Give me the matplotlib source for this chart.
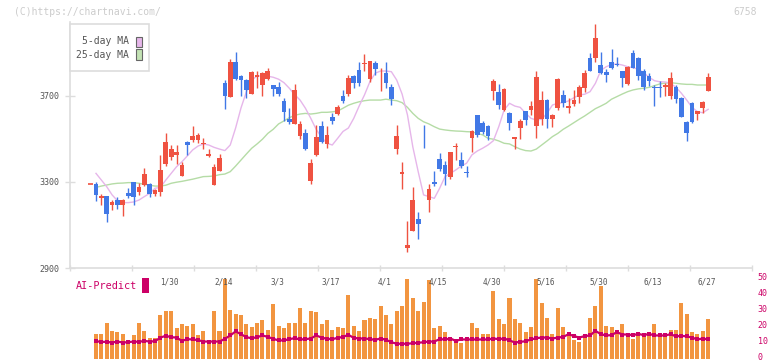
import numpy as np
import matplotlib
matplotlib.use("Agg")
import matplotlib.pyplot as plt
from matplotlib.patches import Rectangle
from matplotlib.transforms import blended_transform_factory, ScaledTranslation

# ---------------- data ----------------
opens = [3291, 3224, 3235, 3195, 3216, 3195, 3249, 3300, 3255, 3288,
         3291, 3246, 3255, 3384, 3416, 3426, 3330, 3486, 3495, 3495,
         3477, 3421, 3288, 3351, 3761, 3695, 3858, 3793, 3774, 3709,
         3790, 3751, 3779, 3751, 3742, 3677, 3593, 3570, 3514, 3528,
         3305, 3426, 3561, 3477, 3602, 3616, 3700, 3709, 3793, 3821,
         3847, 3779, 3854, 3764, 3807, 3742, 3454, 3337, 2993, 3072,
         3128, 3528, 3216, 3300, 3407, 3379, 3323, 3463, 3402, 3347,
         3505, 3612, 3574, 3561, 3723, 3719, 3635, 3621, 3500, 3551,
         3630, 3635, 3561, 3593, 3681, 3593, 3644, 3705, 3644, 3663,
         3695, 3737, 3877, 3877, 3844, 3812, 3858, 3849, 3816, 3756,
         3900, 3877, 3816, 3793, 3742, 3742, 3742, 3700, 3742, 3691,
         3579, 3667, 3616, 3644, 3723]
highs = [3298, 3244, 3235, 3215, 3230, 3221, 3272, 3300, 3294, 3365,
         3295, 3269, 3426, 3528, 3472, 3472, 3393, 3491, 3561, 3528,
         3505, 3454, 3384, 3430, 3774, 3872, 3905, 3798, 3779, 3816,
         3816, 3812, 3830, 3751, 3765, 3691, 3644, 3756, 3584, 3547,
         3407, 3565, 3584, 3561, 3621, 3658, 3728, 3798, 3798, 3858,
         3895, 3863, 3863, 3830, 3858, 3756, 3565, 3393, 3119, 3277,
         3161, 3565, 3291, 3351, 3435, 3398, 3440, 3481, 3440, 3374,
         3542, 3612, 3584, 3565, 3779, 3756, 3737, 3626, 3509, 3593,
         3630, 3677, 3816, 3723, 3686, 3616, 3784, 3728, 3691, 3728,
         3751, 3821, 3900, 4035, 3905, 3826, 3919, 3881, 3816, 3840,
         3914, 3881, 3826, 3807, 3751, 3770, 3761, 3812, 3751, 3695,
         3584, 3672, 3630, 3677, 3807]
lows = [3212, 3193, 3116, 3170, 3175, 3142, 3224, 3195, 3240, 3283,
        3230, 3237, 3237, 3376, 3402, 3384, 3330, 3426, 3486, 3481,
        3454, 3416, 3288, 3351, 3640, 3695, 3774, 3700, 3691, 3709,
        3737, 3700, 3774, 3700, 3700, 3584, 3570, 3570, 3500, 3449,
        3291, 3421, 3481, 3458, 3570, 3612, 3667, 3700, 3737, 3747,
        3816, 3765, 3798, 3723, 3737, 3658, 3430, 3268, 2974, 3072,
        3035, 3458, 3161, 3281, 3351, 3286, 3314, 3402, 3365, 3323,
        3440, 3509, 3523, 3495, 3681, 3640, 3630, 3542, 3454, 3500,
        3565, 3612, 3505, 3565, 3551, 3556, 3635, 3649, 3621, 3654,
        3667, 3719, 3816, 3858, 3802, 3765, 3826, 3840, 3742, 3751,
        3830, 3774, 3728, 3747, 3654, 3695, 3700, 3686, 3667, 3602,
        3491, 3574, 3588, 3621, 3723]
closes = [3240, 3237, 3153, 3209, 3195, 3216, 3235, 3230, 3277, 3339,
          3246, 3264, 3356, 3486, 3454, 3440, 3379, 3472, 3514, 3519,
          3481, 3430, 3370, 3412, 3700, 3858, 3779, 3774, 3728, 3812,
          3798, 3807, 3816, 3733, 3709, 3626, 3579, 3728, 3570, 3454,
          3388, 3509, 3486, 3519, 3584, 3649, 3677, 3784, 3761, 3761,
          3854, 3863, 3826, 3765, 3761, 3686, 3514, 3347, 3007, 3216,
          3105, 3526, 3268, 3291, 3361, 3337, 3440, 3468, 3374, 3344,
          3537, 3519, 3533, 3514, 3770, 3658, 3733, 3574, 3509, 3584,
          3588, 3654, 3788, 3681, 3593, 3612, 3779, 3667, 3654, 3681,
          3742, 3807, 3816, 3970, 3807, 3798, 3830, 3844, 3784, 3835,
          3830, 3793, 3742, 3770, 3737, 3737, 3751, 3784, 3686, 3602,
          3528, 3579, 3630, 3672, 3788]
prev_close = 3290  # flat mark drawn just left of the first bar

ma5 = [3340, 3309, 3278, 3240, 3213, 3204, 3204, 3207, 3216, 3232,
       3247, 3271, 3275, 3309, 3340, 3371, 3394, 3421, 3449, 3467,
       3477, 3472, 3461, 3453, 3446, 3472, 3551, 3644, 3719, 3774,
       3793, 3793, 3792, 3787, 3778, 3762, 3736, 3706, 3681, 3643,
       3596, 3545, 3508, 3480, 3472, 3503, 3535, 3551, 3596, 3653,
       3705, 3766, 3806, 3816, 3816, 3813, 3774, 3709, 3612, 3463,
       3348, 3240, 3232, 3224, 3271, 3325, 3340, 3356, 3374, 3387,
       3426, 3444, 3457, 3472, 3492, 3557, 3635, 3666, 3653, 3647,
       3620, 3596, 3588, 3592, 3620, 3658, 3666, 3669, 3677, 3692,
       3705, 3708, 3720, 3759, 3818, 3836, 3846, 3849, 3844, 3836,
       3832, 3824, 3808, 3787, 3771, 3766, 3765, 3759, 3740, 3713,
       3681, 3647, 3627, 3622, 3638]
ma25 = [3275, 3281, 3286, 3291, 3294, 3295, 3297, 3297, 3294, 3289,
        3285, 3281, 3281, 3285, 3294, 3299, 3303, 3308, 3313, 3319,
        3325, 3326, 3328, 3334, 3337, 3348, 3374, 3402, 3430, 3457,
        3477, 3499, 3526, 3545, 3570, 3584, 3599, 3610, 3616, 3619,
        3616, 3619, 3624, 3624, 3626, 3630, 3643, 3657, 3666, 3673,
        3678, 3681, 3681, 3681, 3685, 3681, 3678, 3669, 3647, 3619,
        3596, 3580, 3570, 3557, 3546, 3542, 3539, 3537, 3536, 3534,
        3533, 3526, 3519, 3503, 3499, 3491, 3480, 3477, 3464, 3453,
        3446, 3444, 3453, 3472, 3491, 3511, 3526, 3545, 3560, 3576,
        3592, 3607, 3624, 3641, 3653, 3666, 3685, 3697, 3709, 3720,
        3728, 3733, 3736, 3740, 3748, 3756, 3760, 3762, 3759, 3756,
        3754, 3754, 3751, 3751, 3751]

volume = [15.6, 15.6, 22.5, 17.5, 16.3, 15.6, 11.3, 14.4, 21.9, 16.9,
          13.1, 13.1, 26.9, 29.4, 30.0, 18.8, 21.3, 20.6, 21.3, 14.4,
          16.9, 11.3, 30.0, 16.9, 50.0, 30.6, 28.1, 26.9, 21.3, 19.4,
          21.9, 23.8, 18.1, 33.8, 20.6, 18.8, 21.9, 22.5, 31.3, 22.5,
          30.0, 28.8, 21.3, 23.8, 18.1, 20.0, 18.8, 39.4, 20.6, 17.5,
          23.8, 25.6, 25.0, 33.1, 27.5, 21.3, 30.0, 33.1, 50.0, 38.1,
          30.0, 35.6, 48.8, 18.8, 20.6, 16.3, 12.5, 10.0, 10.0, 12.5,
          22.5, 18.8, 15.6, 15.6, 41.9, 24.4, 21.3, 38.1, 25.0, 22.5,
          16.3, 20.0, 50.0, 35.0, 25.6, 15.6, 31.3, 20.0, 14.4, 11.3,
          10.6, 13.1, 25.6, 33.1, 45.6, 20.6, 19.4, 18.1, 21.3, 15.6,
          11.9, 15.6, 15.0, 14.4, 21.3, 15.0, 15.0, 18.1, 18.1, 35.0,
          28.1, 16.3, 15.6, 17.5, 25.0]

ai_predict = [10.8, 10.4, 10.4, 10.0, 10.6, 10.0, 10.2, 10.6, 10.4, 11.0,
              10.6, 10.8, 13.1, 14.2, 13.3, 13.1, 11.0, 12.1, 11.9, 11.5,
              10.6, 10.6, 10.6, 10.6, 12.3, 14.4, 16.9, 15.2, 13.3, 12.7,
              13.3, 14.4, 13.5, 12.3, 11.3, 11.3, 12.1, 12.7, 11.9, 12.1,
              12.5, 14.4, 13.1, 12.3, 12.1, 12.9, 13.5, 14.8, 12.9, 12.5,
              12.5, 12.1, 11.7, 12.5, 11.7, 10.2, 9.2, 9.2, 9.2, 9.6,
              9.8, 10.2, 10.6, 10.6, 12.1, 11.9, 12.5, 11.0, 11.9, 11.9,
              11.9, 11.9, 11.9, 11.9, 12.5, 12.1, 12.5, 11.3, 10.0, 10.4,
              10.8, 11.9, 12.7, 13.1, 13.1, 12.5, 13.1, 13.5, 15.2, 14.0,
              13.1, 14.0, 14.4, 17.3, 15.2, 14.4, 14.6, 16.5, 15.0, 15.0,
              14.6, 15.4, 14.6, 15.4, 14.4, 14.4, 14.4, 15.2, 13.8, 14.2,
              13.8, 13.1, 11.9, 12.5, 11.9]

date_labels = ['1/30', '2/14', '3/3', '3/17', '4/1', '4/15', '4/30',
               '5/16', '5/30', '6/13', '6/27']
date_label_index = [14, 24, 34, 44, 54, 64, 74, 84, 94, 104, 114]
price_ticks = [2900, 3300, 3700]
ai_ticks = [0, 10, 20, 30, 40, 50]
ticker = '6758'

# ---------------- styling ----------------
W, H = 772, 361
RED = '#ef5241'
BLUE = '#4178e6'
ORANGE = '#f29540'
MAGENTA = '#cc0066'
PINK = '#e6b6ea'
GREEN = '#b5dca6'
GRID = '#dddddd'
TXT = '#555555'
MONO = 'DejaVu Sans Mono'

fig = plt.figure(figsize=(W / 100, H / 100), dpi=100)
fig.patch.set_facecolor('white')

def fx(px):
    return px / W

def fy(py):
    return 1 - py / H

n = len(closes)
x = np.arange(n)
x0, x1 = -4.84, 122.16

# ---------------- price panel ----------------
ax = fig.add_axes([fx(70), fy(268), fx(752) - fx(70), fy(22) - fy(268)])
ax.set_xlim(x0, x1)
ax.set_ylim(2900, 4044)
for s in ['top', 'right']:
    ax.spines[s].set_visible(False)
for s in ['left', 'bottom']:
    ax.spines[s].set_color(GRID)
    ax.spines[s].set_linewidth(1.2)

ax.plot(x, ma25, color=GREEN, lw=1.0, zorder=2)
ax.plot(x, ma5, color=PINK, lw=1.0, zorder=2)

body_w = 0.88
for i in range(n):
    o, h, l, c = opens[i], highs[i], lows[i], closes[i]
    col = RED if c >= o else BLUE
    ax.vlines(i, l, h, color=col, lw=1.0, zorder=3)
    bot = min(o, c)
    hgt = max(abs(c - o), 3)
    ax.add_patch(Rectangle((i - body_w / 2, bot - (hgt - abs(c - o)) / 2), body_w, hgt,
                           facecolor=col, edgecolor='none', zorder=4))
ax.hlines(prev_close, -1 - body_w / 2, -1 + body_w / 2, color=RED, lw=1.2, zorder=4)

ax.set_yticks(price_ticks)
ax.set_yticklabels([str(t) for t in price_ticks], fontfamily=MONO, fontsize=6, color=TXT)
ax.tick_params(axis='y', direction='inout', length=6.5, width=1.0, color=GRID, pad=4.3)
ax.set_xticks(np.linspace(x0, x1, 12))
ax.set_xticklabels([])
ax.tick_params(axis='x', direction='inout', length=5, width=1.0, color=GRID)

# legend box
fig.patches.append(Rectangle((fx(70), fy(71)), fx(149) - fx(70), fy(24) - fy(71),
                             transform=fig.transFigure, facecolor='white',
                             edgecolor=GRID, lw=1.2, zorder=10))
fig.text(fx(129), fy(41.5), '5-day MA', ha='right', va='center', fontfamily=MONO,
         fontsize=7, color=TXT, zorder=11)
fig.text(fx(129), fy(54.5), '25-day MA', ha='right', va='center', fontfamily=MONO,
         fontsize=7, color=TXT, zorder=11)
fig.patches.append(Rectangle((fx(136), fy(47)), fx(6), fy(36.5) - fy(47),
                             transform=fig.transFigure, facecolor=PINK,
                             edgecolor='#666666', lw=0.8, zorder=11))
fig.patches.append(Rectangle((fx(136), fy(59.5)), fx(6), fy(49) - fy(59.5),
                             transform=fig.transFigure, facecolor='#c3e2b4',
                             edgecolor='#666666', lw=0.8, zorder=11))

# watermark and code
fig.text(fx(14), fy(12), '(C)https://chartnavi.com/', ha='left', va='center',
         fontfamily=MONO, fontsize=7, color='#cccccc')
fig.text(fx(757), fy(12), ticker, ha='right', va='center',
         fontfamily=MONO, fontsize=7, color='#cccccc')

# ---------------- volume / AI panel ----------------
ax2 = fig.add_axes([fx(70), fy(358.5), fx(752) - fx(70), fy(278.5) - fy(358.5)])
ax2.set_xlim(x0, x1)
ax2.set_ylim(0, 50)
for s in ax2.spines.values():
    s.set_visible(False)
ax2.bar(x, volume, width=0.75, color=ORANGE, zorder=2, clip_on=False)
ax2.plot(x, ai_predict, color=MAGENTA, lw=1.6, marker='s', markersize=2.4,
         markeredgewidth=0, zorder=3)
ax2.set_xticks([])
ax2.yaxis.tick_right()
ax2.set_yticks(ai_ticks)
ax2.set_yticklabels([str(t) for t in ai_ticks], fontfamily=MONO, fontsize=6, color=MAGENTA)
ax2.tick_params(axis='y', length=0, pad=4)
shift = ScaledTranslation(0, 2.0 / 100, fig.dpi_scale_trans)
for lab in ax2.get_yticklabels():
    lab.set_transform(lab.get_transform() + shift)

tr = blended_transform_factory(ax2.transData, fig.transFigure)
for lab, idx in zip(date_labels, date_label_index):
    ax2.text(idx - 0.3, fy(282), lab, transform=tr, ha='center', va='center',
             fontfamily=MONO, fontsize=5.5, color=TXT, zorder=5)

fig.text(fx(76), fy(286), 'AI-Predict', ha='left', va='center', fontfamily=MONO,
         fontsize=7.3, color=MAGENTA)
fig.patches.append(Rectangle((fx(142), fy(293)), fx(7), fy(277.5) - fy(293),
                             transform=fig.transFigure, facecolor=MAGENTA,
                             edgecolor='none', zorder=11))

fig.savefig('out.png', dpi=100, facecolor='white')
